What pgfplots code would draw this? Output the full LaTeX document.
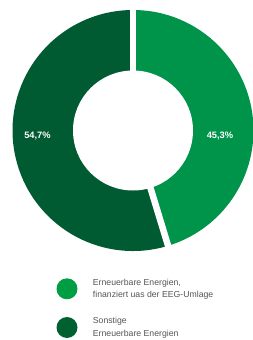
\documentclass[border=0pt]{standalone}
\usepackage{pgfplots}
\usepackage{pgfplotstable}
\pgfplotsset{compat=1.18}
\usepackage{fontspec}
\setmainfont{Liberation Sans}
\definecolor{lightg}{HTML}{00944A}
\definecolor{darkg}{HTML}{005B32}
\definecolor{legg}{HTML}{009E43}
\definecolor{legd}{HTML}{00602F}
\definecolor{txt}{HTML}{555555}
\pgfplotstableread{
share
45.3
54.7
}\datatable
\begin{document}
\begin{tikzpicture}
\useasboundingbox (0,0) rectangle (253bp,340bp);
\pgfplotstablegetelem{0}{share}\of\datatable
\let\va\pgfplotsretval
\pgfplotstablegetelem{1}{share}\of\datatable
\let\vb\pgfplotsretval
\pgfmathsetmacro\aend{90-3.6*\va}
\pgfmathsetmacro\bend{\aend-3.6*\vb}
\begin{axis}[hide axis, scale only axis, width=253bp, height=340bp,
  xmin=0, xmax=253, ymin=0, ymax=340, clip=false]
% slices
\fill[lightg] (axis cs:133,209.5) -- ++(90:120.5bp) arc[start angle=90, end angle=\aend, radius=120.5bp] -- cycle;
\fill[darkg] (axis cs:133,209.5) -- ++(\aend:120.5bp) arc[start angle=\aend, end angle=\bend, radius=120.5bp] -- cycle;
% gaps
\draw[white, line width=6.5bp] (axis cs:133,209.5) -- ++(90:126bp);
\draw[white, line width=6.5bp] (axis cs:133,209.5) -- ++(\aend:126bp);
% hole
\fill[white] (axis cs:133,209.5) circle[radius=60bp];
% labels
\node[text=white, font=\fontsize{9.3bp}{11bp}\selectfont\bfseries] at (axis cs:220,204)
  {\pgfmathprintnumber[fixed, precision=1, fixed zerofill, use comma, assume math mode=true]{\va}\%};
\node[text=white, font=\fontsize{9.3bp}{11bp}\selectfont\bfseries] at (axis cs:37.5,204)
  {\pgfmathprintnumber[fixed, precision=1, fixed zerofill, use comma, assume math mode=true]{\vb}\%};
% legend
\fill[legg] (axis cs:67,51.2) circle[radius=10.5bp];
\fill[legd] (axis cs:67,12.5) circle[radius=10.5bp];
\node[anchor=base west, inner sep=0pt, align=left, text=txt, font=\fontsize{8.7bp}{12.3bp}\selectfont] at (axis cs:92.7,42.7)
  {Erneuerbare Energien,\\finanziert uas der EEG-Umlage};
\node[anchor=base west, inner sep=0pt, align=left, text=txt, font=\fontsize{8.7bp}{12.7bp}\selectfont] at (axis cs:92.7,3.3)
  {Sonstige\\Erneuerbare Energien};
\end{axis}
\end{tikzpicture}
\end{document}
